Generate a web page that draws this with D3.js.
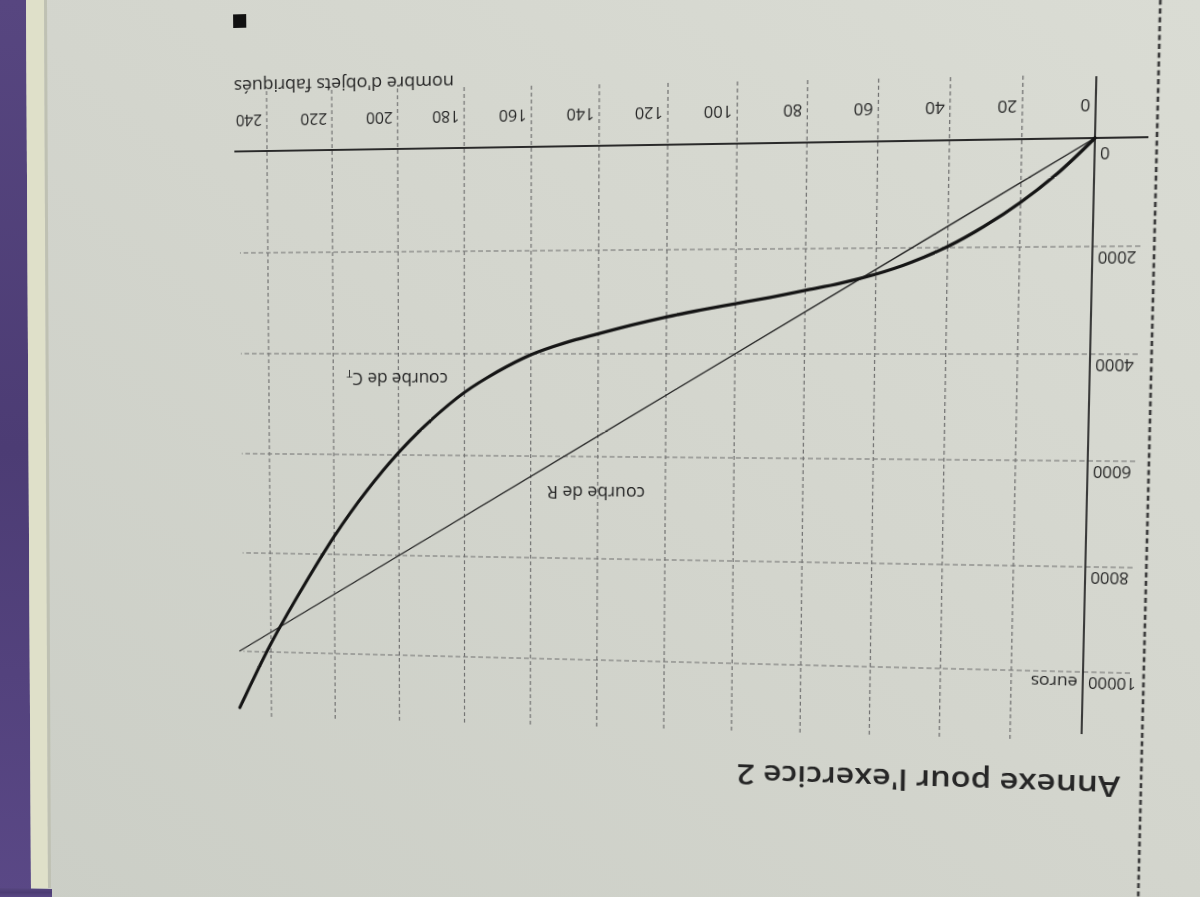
<!DOCTYPE html>
<html>
<head>
<meta charset="utf-8">
<script src="https://cdn.jsdelivr.net/npm/d3@7"></script>
<style>
  html, body { margin: 0; padding: 0; width: 1200px; height: 897px; overflow: hidden; background: #cfd2c9; }
  #bg { position: absolute; left: 0; top: 0; }
  #page { position: absolute; left: 0; top: 0; width: 1200px; height: 900px; transform-origin: 0 0; }
  #page svg { overflow: visible; }
  text { font-family: "Open Sans", "DejaVu Sans", sans-serif; fill: #262626; }
</style>
</head>
<body>
<svg id="bg" width="1200" height="897"></svg>
<div id="page"></div>
<script>
// ---------- data ----------
const xTicks = [0, 20, 40, 60, 80, 100, 120, 140, 160, 180, 200, 220, 240];
const yTicks = [0, 2000, 4000, 6000, 8000, 10000];
const quantities = [0, 10, 20, 30, 40, 50, 60, 70, 80, 90, 100, 110, 120, 130, 140, 150, 160, 170, 180, 190, 200, 210, 220, 230, 240, 250];
const costCT = [0, 640, 1170, 1610, 1980, 2270, 2490, 2660, 2790, 2920, 3040, 3160, 3290, 3440, 3610, 3790, 4020, 4350, 4760, 5300, 5950, 6730, 7640, 8690, 9830, 11150];
const revenueQ = [0, 250];
const revenueR = [0, 10000];
const xTitle = "nombre d'objets fabriqués";
const yUnit = "euros";
const pageTitle = "Annexe pour l'exercice 2";

// ---------- background (photo surroundings) ----------
const bg = d3.select("#bg");
const defs = bg.append("defs");
const pg = defs.append("linearGradient").attr("id", "paper").attr("x1", "1").attr("y1", "0").attr("x2", "0").attr("y2", "1");
pg.append("stop").attr("offset", "0").attr("stop-color", "#dadcd4");
pg.append("stop").attr("offset", "0.5").attr("stop-color", "#d3d5cd");
pg.append("stop").attr("offset", "1").attr("stop-color", "#cbcec6");
const cg = defs.append("linearGradient").attr("id", "cloth").attr("x1", "0").attr("y1", "0").attr("x2", "0").attr("y2", "1");
cg.append("stop").attr("offset", "0").attr("stop-color", "#574680");
cg.append("stop").attr("offset", "0.5").attr("stop-color", "#4c3c74");
cg.append("stop").attr("offset", "1").attr("stop-color", "#5a4886");
bg.append("rect").attr("width", 1200).attr("height", 897).attr("fill", "url(#paper)");
bg.append("path").attr("d", "M0,0 L26,0 L31,897 L0,897 Z").attr("fill", "url(#cloth)");
bg.append("path").attr("d", "M0,888 L52,889 L52,897 L0,897 Z").attr("fill", "url(#cloth)");
bg.append("path").attr("d", "M26,0 L44,0 L48,888 L31,888 Z").attr("fill", "#dfe0c9");
bg.append("path").attr("d", "M44,0 L47,0 L51,888 L48,888 Z").attr("fill", "#bfc1b3");

// ---------- chart plane (upright page) ----------
const u0 = 105, v0 = 759, W = 830, H = 530;
const x = d3.scaleLinear().domain([0, 240]).range([u0, u0 + W]);
const y = d3.scaleLinear().domain([0, 10000]).range([v0, v0 - H]);

const svg = d3.select("#page").append("svg").attr("width", 1200).attr("height", 900);

// grid
const gridV = xTicks.filter(d => d > 0);
svg.append("g").selectAll("line").data(gridV).join("line")
  .attr("x1", d => x(d)).attr("x2", d => x(d))
  .attr("y1", v0 + 62).attr("y2", y(10000) - 72)
  .attr("stroke", "#6f6f6f").attr("stroke-width", 1.2).attr("stroke-dasharray", "4 3");
const gridH = yTicks.filter(d => d > 0);
svg.append("g").selectAll("line").data(gridH).join("line")
  .attr("x1", x(0) - 45).attr("x2", x(240) + 30)
  .attr("y1", d => y(d)).attr("y2", d => y(d))
  .attr("stroke", "#6f6f6f").attr("stroke-width", 1.2).attr("stroke-dasharray", "5 3");

// heavy dotted cut line
svg.append("line").attr("x1", x(0) - 58).attr("x2", x(0) - 58).attr("y1", -40).attr("y2", 940)
  .attr("stroke", "#3f3f3f").attr("stroke-width", 2.6).attr("stroke-dasharray", "5 3.5");

// axes
svg.append("line").attr("x1", x(0) - 50).attr("x2", x(240) + 35).attr("y1", y(0)).attr("y2", y(0))
  .attr("stroke", "#2a2a2a").attr("stroke-width", 1.8);
svg.append("line").attr("x1", x(0)).attr("x2", x(0)).attr("y1", y(0) + 60).attr("y2", y(10000) - 63)
  .attr("stroke", "#2a2a2a").attr("stroke-width", 1.8);

// x tick labels
svg.append("g").selectAll("text").data(xTicks).join("text")
  .attr("x", d => x(d) + 5).attr("y", v0 + 38)
  .attr("font-size", 16.5).text(d => d);
// y tick labels
svg.append("g").selectAll("text").data(yTicks).join("text")
  .attr("x", x(0) - 5).attr("y", d => y(d) - (d === 0 ? 9 : 5))
  .attr("text-anchor", "end").attr("font-size", 16).text(d => d);
svg.append("text").attr("x", x(0) + 5).attr("y", y(10000) - 5).attr("font-size", 17).text(yUnit);
svg.append("text").attr("x", x(240) + 35).attr("y", v0 + 74).attr("text-anchor", "end")
  .attr("font-size", 18.5).attr("textLength", 232).attr("lengthAdjust", "spacingAndGlyphs").text(xTitle);

// title and end mark
svg.append("text").attr("x", x(0) - 38).attr("y", y(10000) - 105)
  .attr("font-size", 29).attr("font-weight", 600)
  .attr("textLength", 378).attr("lengthAdjust", "spacingAndGlyphs").text(pageTitle);
svg.append("rect").attr("x", x(240) + 21).attr("y", v0 + 128).attr("width", 14).attr("height", 14).attr("fill", "#111");

// curves
const ctPts = quantities.map((q, i) => [q, costCT[i]]);
const rPts = revenueQ.map((q, i) => [q, revenueR[i]]);
const line = d3.line().x(d => x(d[0])).y(d => y(d[1]));
svg.append("path").attr("d", line(rPts)).attr("fill", "none").attr("stroke", "#262626").attr("stroke-width", 1.4);
svg.append("path").attr("d", line.curve(d3.curveCatmullRom.alpha(0.5))(ctPts)).attr("fill", "none")
  .attr("stroke", "#151515").attr("stroke-width", 3.3).attr("stroke-linecap", "round");

// curve labels
svg.append("text").attr("x", x(126)).attr("y", y(6580)).attr("font-size", 18).text("courbe de R");
const ct = svg.append("text").attr("x", x(185)).attr("y", y(4380)).attr("font-size", 18);
ct.append("tspan").text("courbe de C");
ct.append("tspan").attr("font-size", 11).attr("dy", 3).text("T");

// ---------- photo perspective (homography from plane to picture) ----------
function solve(A, b) {
  const n = b.length;
  A = A.map((r, i) => r.concat([b[i]]));
  for (let c = 0; c < n; c++) {
    let p = c;
    for (let r = c + 1; r < n; r++) if (Math.abs(A[r][c]) > Math.abs(A[p][c])) p = r;
    [A[c], A[p]] = [A[p], A[c]];
    for (let r = 0; r < n; r++) {
      if (r === c) continue;
      const f = A[r][c] / A[c][c];
      for (let k = c; k <= n; k++) A[r][k] -= f * A[c][k];
    }
  }
  return A.map((r, i) => r[n] / r[i]);
}
const src = [[x(0), y(0)], [x(240), y(0)], [x(0), y(10000)], [x(240), y(10000)]];
const dst = [[1095, 138], [267, 151], [1083, 672], [271, 652]];
const A = [], b = [];
for (let i = 0; i < 4; i++) {
  const [sx, sy] = src[i], [X, Y] = dst[i];
  A.push([sx, sy, 1, 0, 0, 0, -sx * X, -sy * X]); b.push(X);
  A.push([0, 0, 0, sx, sy, 1, -sx * Y, -sy * Y]); b.push(Y);
}
const h = solve(A, b);
d3.select("#page").style("transform",
  `matrix3d(${h[0]},${h[3]},0,${h[6]},${h[1]},${h[4]},0,${h[7]},0,0,1,0,${h[2]},${h[5]},0,1)`);
</script>
</body>
</html>
